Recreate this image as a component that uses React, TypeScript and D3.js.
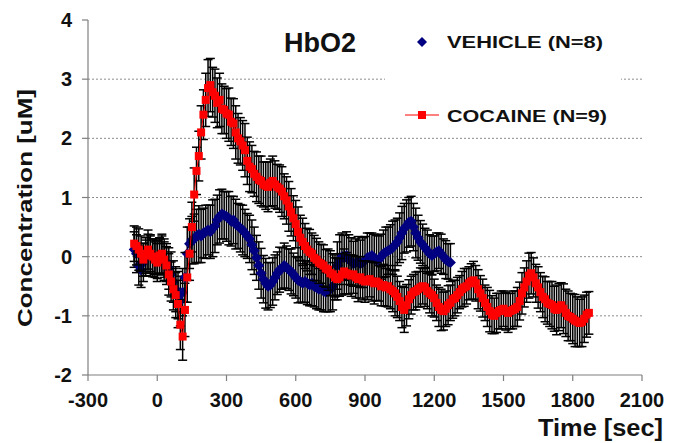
import React from 'react';
import { scaleLinear, line } from 'd3';

// sample times (sec), 10 s apart; vehicle uses the first part of it
const sampleTime = [
  -100, -90, -80, -70, -60, -50, -40, -30, -20, -10, 0, 10, 20, 30, 40, 50, 60, 70, 80, 90,
  100, 110, 120, 130, 140, 150, 160, 170, 180, 190, 200, 210, 220, 230, 240, 250, 260, 270, 280, 290,
  300, 310, 320, 330, 340, 350, 360, 370, 380, 390, 400, 410, 420, 430, 440, 450, 460, 470, 480, 490,
  500, 510, 520, 530, 540, 550, 560, 570, 580, 590, 600, 610, 620, 630, 640, 650, 660, 670, 680, 690,
  700, 710, 720, 730, 740, 750, 760, 770, 780, 790, 800, 810, 820, 830, 840, 850, 860, 870, 880, 890,
  900, 910, 920, 930, 940, 950, 960, 970, 980, 990, 1000, 1010, 1020, 1030, 1040, 1050, 1060, 1070, 1080, 1090,
  1100, 1110, 1120, 1130, 1140, 1150, 1160, 1170, 1180, 1190, 1200, 1210, 1220, 1230, 1240, 1250, 1260, 1270, 1280, 1290,
  1300, 1310, 1320, 1330, 1340, 1350, 1360, 1370, 1380, 1390, 1400, 1410, 1420, 1430, 1440, 1450, 1460, 1470, 1480, 1490,
  1500, 1510, 1520, 1530, 1540, 1550, 1560, 1570, 1580, 1590, 1600, 1610, 1620, 1630, 1640, 1650, 1660, 1670, 1680, 1690,
  1700, 1710, 1720, 1730, 1740, 1750, 1760, 1770, 1780, 1790, 1800, 1810, 1820, 1830, 1840, 1850, 1860, 1870,
];

// COCAINE (N=9): mean and sem, uM
const cocaineMean = [
  0.22, 0.18, 0.12, 0.05, -0.05, 0.02, 0.12, 0.05, 0.0, -0.05, -0.1, 0.02, 0.05, -0.05, -0.15, -0.3, -0.42, -0.55, -0.65, -0.8,
  -1.15, -1.35, -0.9, -0.35, 0.05, 0.5, 1.05, 1.45, 1.7, 2.1, 2.4, 2.65, 2.85, 2.9, 2.78, 2.72, 2.6, 2.65, 2.5, 2.48,
  2.42, 2.4, 2.28, 2.25, 2.1, 2.0, 1.95, 1.88, 1.8, 1.62, 1.52, 1.48, 1.4, 1.35, 1.3, 1.28, 1.22, 1.2, 1.18, 1.25,
  1.28, 1.22, 1.18, 1.15, 1.1, 1.02, 0.95, 0.85, 0.75, 0.65, 0.55, 0.42, 0.32, 0.25, 0.18, 0.12, 0.08, 0.05, -0.02, -0.05,
  -0.1, -0.12, -0.15, -0.2, -0.22, -0.28, -0.3, -0.35, -0.38, -0.35, -0.3, -0.25, -0.28, -0.3, -0.32, -0.3, -0.35, -0.38, -0.35, -0.4,
  -0.42, -0.4, -0.38, -0.42, -0.45, -0.42, -0.45, -0.5, -0.48, -0.52, -0.5, -0.55, -0.58, -0.62, -0.68, -0.75, -0.85, -0.9, -0.82, -0.72,
  -0.65, -0.6, -0.58, -0.55, -0.52, -0.5, -0.52, -0.58, -0.62, -0.65, -0.7, -0.78, -0.85, -0.9, -0.92, -0.88, -0.82, -0.78, -0.72, -0.7,
  -0.65, -0.6, -0.55, -0.52, -0.5, -0.45, -0.42, -0.4, -0.45, -0.55, -0.62, -0.7, -0.78, -0.85, -0.92, -0.98, -1.0, -0.95, -0.92, -0.9,
  -0.88, -0.92, -0.95, -0.92, -0.9, -0.88, -0.85, -0.75, -0.62, -0.52, -0.42, -0.32, -0.28, -0.35, -0.45, -0.52, -0.6, -0.68, -0.72, -0.78,
  -0.8, -0.82, -0.88, -0.9, -0.85, -0.82, -0.88, -0.95, -1.0, -1.02, -1.05, -1.08, -1.1, -1.12, -1.1, -1.05, -0.98, -0.95,
];
const cocaineSem = [
  0.3, 0.32, 0.35, 0.3, 0.28, 0.3, 0.33, 0.3, 0.28, 0.3, 0.32, 0.3, 0.33, 0.3, 0.32, 0.35, 0.33, 0.35, 0.38, 0.4,
  0.42, 0.4, 0.45, 0.42, 0.45, 0.42, 0.45, 0.4, 0.42, 0.45, 0.42, 0.45, 0.48, 0.45, 0.42, 0.45, 0.42, 0.45, 0.42, 0.4,
  0.42, 0.45, 0.4, 0.42, 0.45, 0.42, 0.4, 0.42, 0.45, 0.4, 0.42, 0.4, 0.38, 0.42, 0.4, 0.42, 0.38, 0.4, 0.42, 0.4,
  0.42, 0.4, 0.38, 0.4, 0.42, 0.38, 0.4, 0.42, 0.4, 0.38, 0.4, 0.42, 0.38, 0.4, 0.38, 0.36, 0.38, 0.35, 0.38, 0.36,
  0.35, 0.33, 0.35, 0.32, 0.35, 0.38, 0.35, 0.33, 0.35, 0.32, 0.35, 0.38, 0.35, 0.33, 0.35, 0.32, 0.35, 0.38, 0.35, 0.33,
  0.35, 0.32, 0.3, 0.33, 0.35, 0.32, 0.3, 0.33, 0.35, 0.32, 0.35, 0.33, 0.35, 0.38, 0.35, 0.33, 0.35, 0.38, 0.35, 0.33,
  0.32, 0.3, 0.32, 0.3, 0.33, 0.3, 0.32, 0.3, 0.33, 0.35, 0.32, 0.3, 0.33, 0.35, 0.32, 0.3, 0.33, 0.3, 0.32, 0.3,
  0.3, 0.28, 0.3, 0.32, 0.3, 0.28, 0.3, 0.32, 0.3, 0.33, 0.3, 0.32, 0.3, 0.33, 0.35, 0.32, 0.3, 0.33, 0.3, 0.32,
  0.3, 0.32, 0.33, 0.3, 0.32, 0.3, 0.33, 0.32, 0.35, 0.33, 0.35, 0.38, 0.35, 0.33, 0.32, 0.35, 0.33, 0.35, 0.38, 0.36,
  0.38, 0.4, 0.38, 0.42, 0.4, 0.38, 0.42, 0.4, 0.42, 0.4, 0.42, 0.44, 0.42, 0.4, 0.42, 0.4, 0.38, 0.36,
];

// VEHICLE (N=8): mean and sem, uM
const vehicleMean = [
  0.12, 0.05, -0.15, -0.22, -0.1, -0.02, 0.05, 0.02, -0.02, 0.0, -0.05, 0.0, 0.02, -0.05, -0.1, -0.2, -0.3, -0.42, -0.55, -0.65,
  -0.75, -0.6, -0.35, 0.05, 0.22, 0.28, 0.3, 0.35, 0.38, 0.35, 0.4, 0.42, 0.45, 0.42, 0.48, 0.52, 0.62, 0.68, 0.72, 0.7,
  0.68, 0.65, 0.6, 0.62, 0.55, 0.52, 0.48, 0.45, 0.4, 0.35, 0.3, 0.2, 0.1, -0.02, -0.15, -0.28, -0.38, -0.45, -0.5, -0.48,
  -0.42, -0.35, -0.28, -0.22, -0.2, -0.15, -0.18, -0.22, -0.25, -0.3, -0.35, -0.4, -0.42, -0.45, -0.42, -0.45, -0.48, -0.45, -0.5, -0.52,
  -0.55, -0.52, -0.58, -0.6, -0.58, -0.55, -0.5, -0.35, -0.15, -0.05, 0.0, -0.02, 0.02, -0.05, -0.08, -0.12, -0.1, -0.08, -0.12, -0.1,
  -0.06, -0.02, 0.0, 0.02, -0.02, -0.06, -0.05, 0.0, 0.05, 0.08, 0.1, 0.12, 0.15, 0.2, 0.25, 0.32, 0.4, 0.48, 0.52, 0.58,
  0.6, 0.5, 0.4, 0.32, 0.25, 0.2, 0.15, 0.1, 0.05, 0.02, 0.05, 0.08, 0.1, 0.05, 0.0, -0.05, -0.08, -0.1,
];
const vehicleSem = [
  0.3, 0.32, 0.33, 0.3, 0.32, 0.3, 0.33, 0.35, 0.32, 0.3, 0.32, 0.3, 0.33, 0.35, 0.32, 0.35, 0.38, 0.35, 0.38, 0.4,
  0.42, 0.4, 0.42, 0.45, 0.42, 0.4, 0.42, 0.45, 0.48, 0.45, 0.42, 0.45, 0.42, 0.45, 0.48, 0.45, 0.42, 0.45, 0.42, 0.4,
  0.42, 0.45, 0.42, 0.4, 0.42, 0.38, 0.4, 0.42, 0.4, 0.38, 0.4, 0.42, 0.4, 0.38, 0.4, 0.42, 0.4, 0.42, 0.4, 0.38,
  0.4, 0.38, 0.36, 0.38, 0.35, 0.38, 0.36, 0.35, 0.38, 0.36, 0.35, 0.38, 0.35, 0.33, 0.35, 0.36, 0.35, 0.38, 0.35, 0.36,
  0.35, 0.38, 0.35, 0.33, 0.35, 0.38, 0.4, 0.38, 0.4, 0.42, 0.4, 0.38, 0.4, 0.42, 0.4, 0.38, 0.4, 0.42, 0.4, 0.42,
  0.4, 0.42, 0.4, 0.38, 0.4, 0.42, 0.4, 0.38, 0.4, 0.42, 0.4, 0.42, 0.45, 0.42, 0.4, 0.42, 0.45, 0.42, 0.44, 0.42,
  0.42, 0.4, 0.42, 0.38, 0.36, 0.35, 0.33, 0.35, 0.32, 0.33, 0.3, 0.32, 0.3, 0.33, 0.3, 0.32, 0.3, 0.32,
];

const xTicks = [-300, 0, 300, 600, 900, 1200, 1500, 1800, 2100];
const yTicks = [-2, -1, 0, 1, 2, 3, 4];
const gridValues = [-1, 0, 1, 2, 3];

const FONT = "Arial, 'Liberation Sans', sans-serif";

type Pt = { t: number; v: number; e: number };

function App() {
  const width = 681, height = 443;
  const xScale = scaleLinear().domain([-300, 2100]).range([88, 642]);
  const yScale = scaleLinear().domain([-2, 4]).range([375, 20]);

  const cocaine: Pt[] = cocaineMean.map((v, i) => ({ t: sampleTime[i], v, e: cocaineSem[i] }));
  const vehicle: Pt[] = vehicleMean.map((v, i) => ({ t: sampleTime[i], v, e: vehicleSem[i] }));

  const cocaineLine = line<Pt>()
    .x(d => xScale(d.t))
    .y(d => yScale(d.v));

  const errBars = (data: Pt[], key: string) =>
    data.map((d, i) => {
      const x = xScale(d.t), y1 = yScale(d.v + d.e), y2 = yScale(d.v - d.e);
      return (
        <g key={key + i} stroke="#000" strokeWidth={1.5}>
          <line x1={x} x2={x} y1={y1} y2={y2} />
          <line x1={x - 4.5} x2={x + 4.5} y1={y1} y2={y1} />
          <line x1={x - 4.5} x2={x + 4.5} y1={y2} y2={y2} />
        </g>
      );
    });

  const diamond = (cx: number, cy: number, r: number) =>
    `M${cx},${cy - r}L${cx + r},${cy}L${cx},${cy + r}L${cx - r},${cy}Z`;

  return (
    <svg width={width} height={height} style={{ position: 'absolute', left: 0, top: 0 }} fontFamily={FONT}>
      <rect width={width} height={height} fill="#fff" />

      {/* gridlines */}
      {gridValues.map(v => (
        <line key={'g' + v} x1={xScale(-300)} x2={xScale(2100)} y1={yScale(v)} y2={yScale(v)}
          stroke="#8c8c8c" strokeWidth={1} strokeDasharray="2,2" />
      ))}

      {/* legend box hides the gridline behind it */}
      <rect x={385} y={24} width={236} height={106} fill="#fff" />

      {/* axes */}
      <g stroke="#7f7f7f" strokeWidth={1.2}>
        <line x1={xScale(-300)} x2={xScale(-300)} y1={yScale(4)} y2={yScale(-2)} />
        <line x1={xScale(-300)} x2={xScale(2100)} y1={yScale(-2)} y2={yScale(-2)} />
        {yTicks.map(v => (
          <line key={'yt' + v} x1={xScale(-300) - 6} x2={xScale(-300)} y1={yScale(v)} y2={yScale(v)} />
        ))}
        {xTicks.map(t => (
          <line key={'xt' + t} x1={xScale(t)} x2={xScale(t)} y1={yScale(-2)} y2={yScale(-2) + 6} />
        ))}
      </g>
      <g fontSize={20} fontWeight="bold" fill="#111">
        {yTicks.map(v => (
          <text key={'yl' + v} x={xScale(-300) - 16} y={yScale(v) + 7} textAnchor="end">{v}</text>
        ))}
        {xTicks.map(t => (
          <text key={'xl' + t} x={xScale(t)} y={407} textAnchor="middle">{t}</text>
        ))}
      </g>

      {/* series */}
      {errBars(vehicle, 've')}
      {vehicle.map((d, i) => (
        <path key={'vm' + i} d={diamond(xScale(d.t), yScale(d.v), 5.5)} fill="#000080" />
      ))}
      {errBars(cocaine, 'ce')}
      <path d={cocaineLine(cocaine) || ''} fill="none" stroke="#ff0000" strokeWidth={1} />
      {cocaine.map((d, i) => (
        <rect key={'cm' + i} x={xScale(d.t) - 4} y={yScale(d.v) - 4} width={8} height={8} fill="#ff0000" />
      ))}

      {/* title + legend */}
      <text x={284} y={52} fontSize={27} fontWeight="bold" fill="#111">HbO2</text>
      <path d={diamond(422, 42, 5)} fill="#000080" />
      <text x={447} y={48} fontSize={16} fontWeight="bold" fill="#111" textLength={156}
        lengthAdjust="spacingAndGlyphs">VEHICLE (N=8)</text>
      <line x1={405} x2={439} y1={115} y2={115} stroke="#ff0000" strokeWidth={1} />
      <rect x={418} y={111} width={8} height={8} fill="#ff0000" />
      <text x={447} y={122} fontSize={16} fontWeight="bold" fill="#111" textLength={160}
        lengthAdjust="spacingAndGlyphs">COCAINE (N=9)</text>

      {/* axis titles */}
      <text transform="translate(32,208) rotate(-90)" textAnchor="middle" fontSize={21} fontWeight="bold"
        fill="#111" textLength={238} lengthAdjust="spacingAndGlyphs">Concentration [uM]</text>
      <text x={663} y={436} textAnchor="end" fontSize={23} fontWeight="bold" fill="#111" textLength={125}
        lengthAdjust="spacingAndGlyphs">Time [sec]</text>
    </svg>
  );
}

export default App;
